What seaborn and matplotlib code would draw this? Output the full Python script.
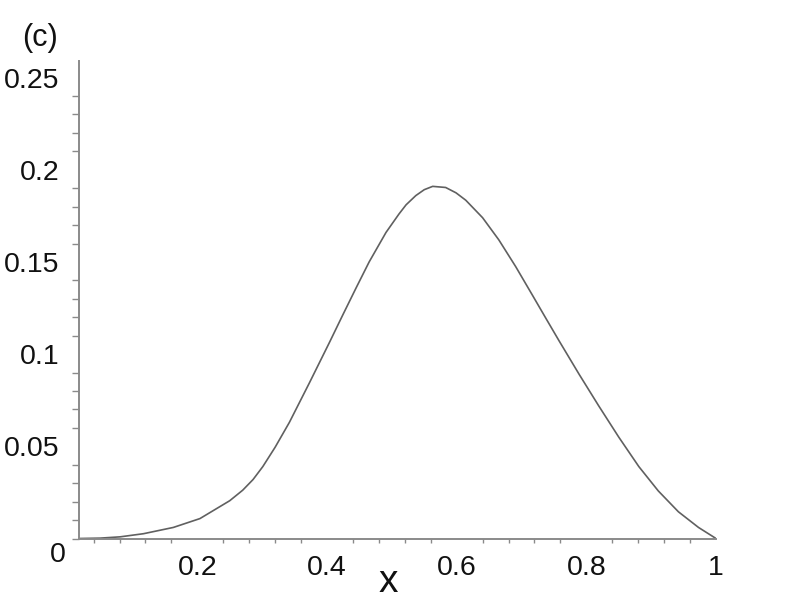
import matplotlib
matplotlib.use("Agg")
import matplotlib.pyplot as plt
import seaborn as sns
from matplotlib.ticker import MultipleLocator, FuncFormatter

# values
x_vals = [0.0175, 0.05, 0.081, 0.117, 0.163, 0.204, 0.25, 0.27, 0.286, 0.301,
          0.32, 0.342, 0.373, 0.404, 0.424, 0.445, 0.465, 0.491, 0.511, 0.522,
          0.537, 0.55, 0.563, 0.583, 0.599, 0.614, 0.640, 0.665, 0.691, 0.716,
          0.737, 0.758, 0.789, 0.819, 0.850, 0.881, 0.911, 0.942, 0.973, 1.0]
y_vals = [0.0, 0.0002, 0.0009, 0.0026, 0.0060, 0.0108, 0.0205, 0.0262, 0.0320, 0.0390,
          0.0495, 0.0630, 0.0845, 0.1065, 0.1210, 0.1360, 0.1500, 0.1660, 0.1760, 0.1810,
          0.1860, 0.1892, 0.1910, 0.1904, 0.1875, 0.1835, 0.1740, 0.1620, 0.1475, 0.1325,
          0.1198, 0.1072, 0.0890, 0.0720, 0.0550, 0.0390, 0.0258, 0.0145, 0.0060, 0.0]
y_ticks = [0.05, 0.1, 0.15, 0.2, 0.25]
x_ticks = [0.2, 0.4, 0.6, 0.8, 1.0]

sns.set_theme(style="white")
plt.rcParams['font.family'] = ['Liberation Sans', 'DejaVu Sans']

fig = plt.figure(figsize=(7.95, 5.99), dpi=100)
ax = fig.add_axes([79 / 795, 1 - 538.5 / 599, 637 / 795, 477.5 / 599])

sns.lineplot(x=x_vals, y=y_vals, color="#606060", linewidth=1.2, ax=ax)

ax.set_xlim(0.0175, 1.0)
ax.set_ylim(0, 0.259)

for side in ("top", "right"):
    ax.spines[side].set_visible(False)
for side in ("left", "bottom"):
    ax.spines[side].set_color("#8a8a8a")
    ax.spines[side].set_linewidth(1.4)

fmt = FuncFormatter(lambda v, p: ("%g" % round(v, 4)))
ax.set_xticks(x_ticks)
ax.set_yticks(y_ticks)
ax.xaxis.set_major_formatter(fmt)
ax.yaxis.set_major_formatter(fmt)
ax.xaxis.set_minor_locator(MultipleLocator(0.04))
ax.yaxis.set_minor_locator(MultipleLocator(0.01))

ax.tick_params(axis="both", which="both", colors="#8a8a8a", labelcolor="#111111",
               labelsize=20.5)
ax.tick_params(axis="y", which="major", direction="out", length=9, width=1.2, pad=5)
ax.tick_params(axis="y", which="minor", direction="out", length=5, width=1.0, left=True)
ax.tick_params(axis="x", which="major", direction="out", length=5, width=1.2, pad=7)
ax.tick_params(axis="x", which="minor", direction="out", length=3, width=1.0, bottom=True)

ax.set_xlabel("x", fontsize=28, color="#111111")
ax.xaxis.label.set_va("baseline")
ax.xaxis.set_label_coords((388 - 79) / 637, (538.5 - 592) / 477.5)
ax.set_ylabel("")

fig.text(57.5 / 795, 1 - 562 / 599, "0", fontsize=20.5, ha="center", va="baseline",
         color="#111111")
fig.text(39.5 / 795, 1 - 46 / 599, "(c)", fontsize=22, ha="center", va="baseline",
         color="#111111")

fig.savefig("out.png", dpi=100)
